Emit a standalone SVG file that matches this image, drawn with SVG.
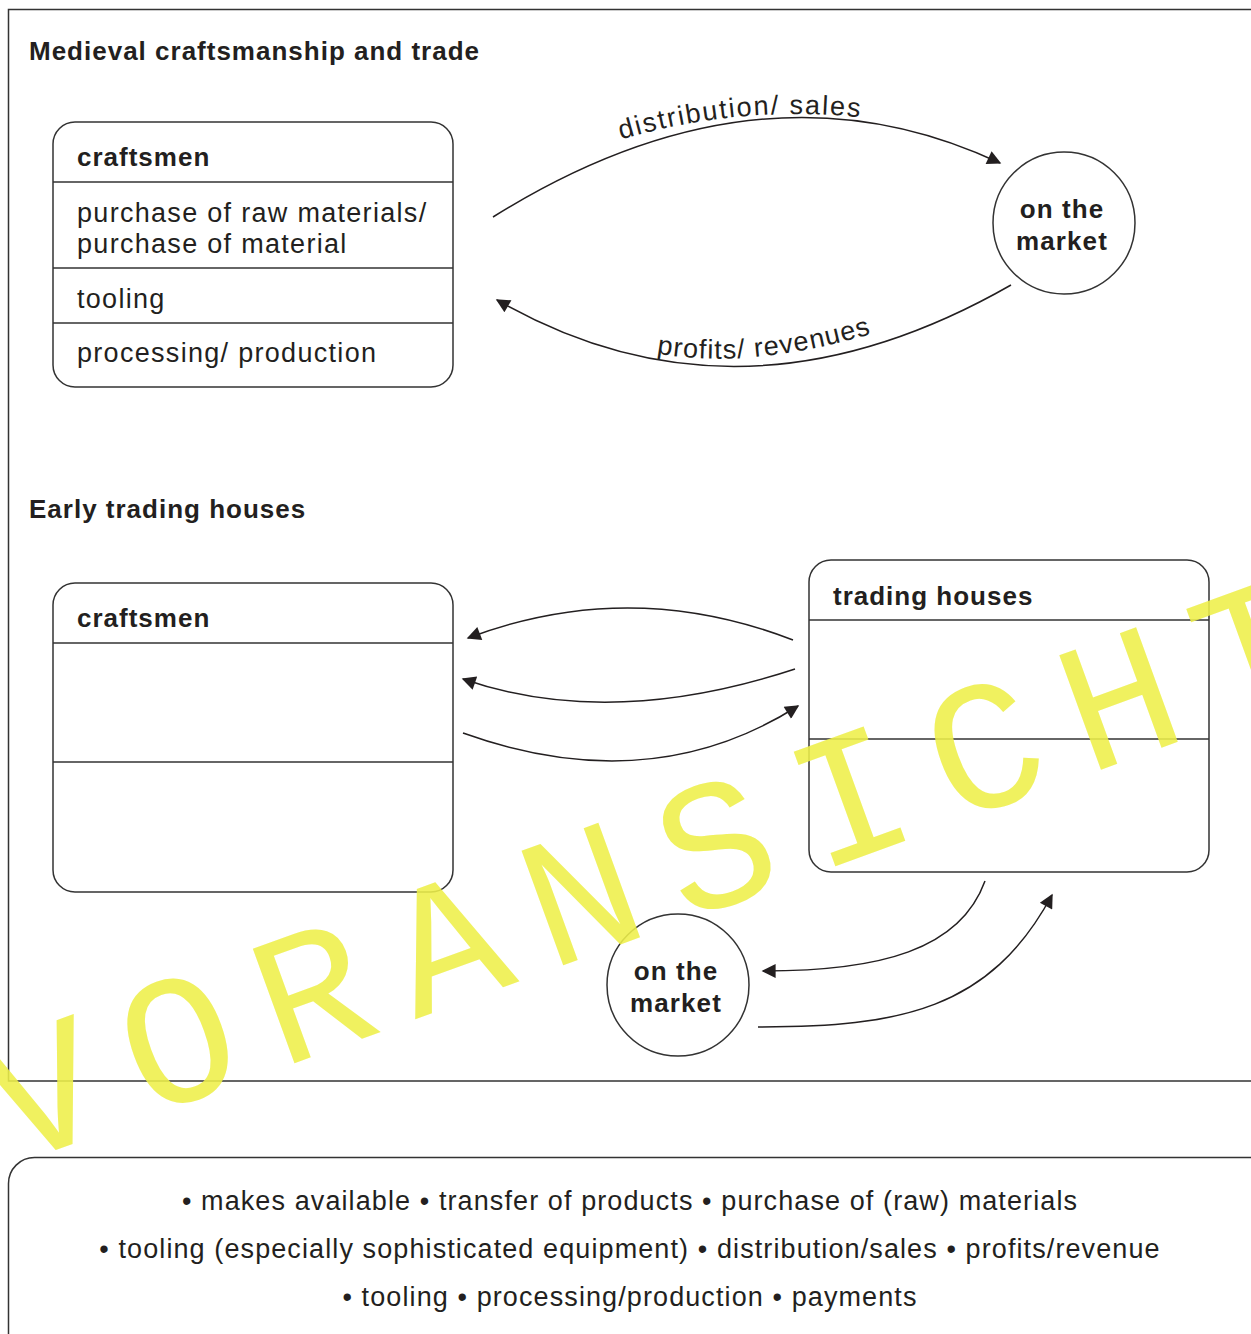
<svg xmlns="http://www.w3.org/2000/svg" width="1251" height="1334" viewBox="0 0 1251 1334">
<defs>
<style>
.ln{fill:none;stroke:#333;stroke-width:1.5}
.box{fill:#fff;stroke:#333;stroke-width:1.5}
.con{fill:none;stroke:#231f20;stroke-width:1.5}
.h{font-family:"Liberation Sans",Arial,sans-serif;font-weight:bold;font-size:26px;fill:#231f20;letter-spacing:1px}
.t{font-family:"Liberation Sans",Arial,sans-serif;font-size:27px;fill:#231f20;letter-spacing:1.3px}
.c{font-family:"Liberation Sans",Arial,sans-serif;font-weight:bold;font-size:26px;fill:#231f20;text-anchor:middle;letter-spacing:1.1px}
.b{font-family:"Liberation Sans",Arial,sans-serif;font-size:27px;fill:#231f20;text-anchor:middle;letter-spacing:1.1px}
.wm{font-family:"Liberation Mono","Courier New",monospace;font-size:185px;fill:#eef04a;opacity:0.88;letter-spacing:32px}
</style>
<marker id="ah" viewBox="0 0 10 10" refX="9" refY="5" markerWidth="19" markerHeight="14" markerUnits="userSpaceOnUse" orient="auto">
<path d="M0,0 L10,5 L0,10 z" fill="#231f20"/>
</marker>
<path id="p1" d="M600,146 Q740,100 880,120"/>
<path id="p2" d="M640,350 Q745,375 890,328"/>
</defs>
<rect width="1251" height="1334" fill="#fff"/>
<path class="ln" d="M1260,9.5 H8.5 V1081 H1260"/>
<text class="h" x="29" y="60">Medieval craftsmanship and trade</text>
<g id="craftsmen1">
<rect class="box" x="53" y="122" width="400" height="265" rx="22"/>
<line class="ln" x1="53" y1="182" x2="453" y2="182"/>
<line class="ln" x1="53" y1="268" x2="453" y2="268"/>
<line class="ln" x1="53" y1="323" x2="453" y2="323"/>
<text class="h" x="77" y="166">craftsmen</text>
<text class="t" x="77" y="222">purchase of raw materials/</text>
<text class="t" x="77" y="253">purchase of material</text>
<text class="t" x="77" y="308">tooling</text>
<text class="t" x="77" y="362">processing/ production</text>
</g>
<g id="market1">
<circle class="box" cx="1064" cy="223" r="71"/>
<text class="c" x="1062" y="218">on the</text>
<text class="c" x="1062" y="250">market</text>
</g>
<text class="h" x="29" y="518">Early trading houses</text>
<g id="craftsmen2">
<rect class="box" x="53" y="583" width="400" height="309" rx="22"/>
<line class="ln" x1="53" y1="643" x2="453" y2="643"/>
<line class="ln" x1="53" y1="762" x2="453" y2="762"/>
<text class="h" x="77" y="627">craftsmen</text>
</g>
<g id="tradinghouses">
<rect class="box" x="809" y="560" width="400" height="312" rx="22"/>
<line class="ln" x1="809" y1="620" x2="1209" y2="620"/>
<line class="ln" x1="809" y1="739" x2="1209" y2="739"/>
<text class="h" x="833" y="605">trading houses</text>
</g>
<g id="market2">
<circle class="box" cx="678" cy="985" r="71"/>
<text class="c" x="676" y="980">on the</text>
<text class="c" x="676" y="1012">market</text>
</g>
<g id="connectors">
<path class="con" d="M493,217 Q760,50 1000,163" marker-end="url(#ah)"/>
<path class="con" d="M1011,285 Q740,440 497,300" marker-end="url(#ah)"/>
<text class="t" style="letter-spacing:1.8px"><textPath href="#p1" startOffset="22">distribution/ sales</textPath></text>
<text class="t" style="letter-spacing:1.1px"><textPath href="#p2" startOffset="17">profits/ revenues</textPath></text>
<path class="con" d="M793,640 Q630,577 468,638" marker-end="url(#ah)"/>
<path class="con" d="M795,669 Q610,730 463,679" marker-end="url(#ah)"/>
<path class="con" d="M463,733 Q650,800 798,706" marker-end="url(#ah)"/>
<path class="con" d="M985,881 C960,950 880,971 763,971" marker-end="url(#ah)"/>
<path class="con" d="M758,1027 C900,1027 990,1010 1052,895" marker-end="url(#ah)"/>
</g>
<g id="legend">
<rect class="box" x="8.5" y="1157.5" width="1280" height="220" rx="26"/>
<text class="b" x="630" y="1210">• makes available • transfer of products • purchase of (raw) materials</text>
<text class="b" x="630" y="1258">• tooling (especially sophisticated equipment) • distribution/sales • profits/revenue</text>
<text class="b" x="630" y="1306">• tooling • processing/production • payments</text>
</g>
<text class="wm" transform="translate(12,1166) rotate(-20)">VORANSICHT</text>
</svg>
